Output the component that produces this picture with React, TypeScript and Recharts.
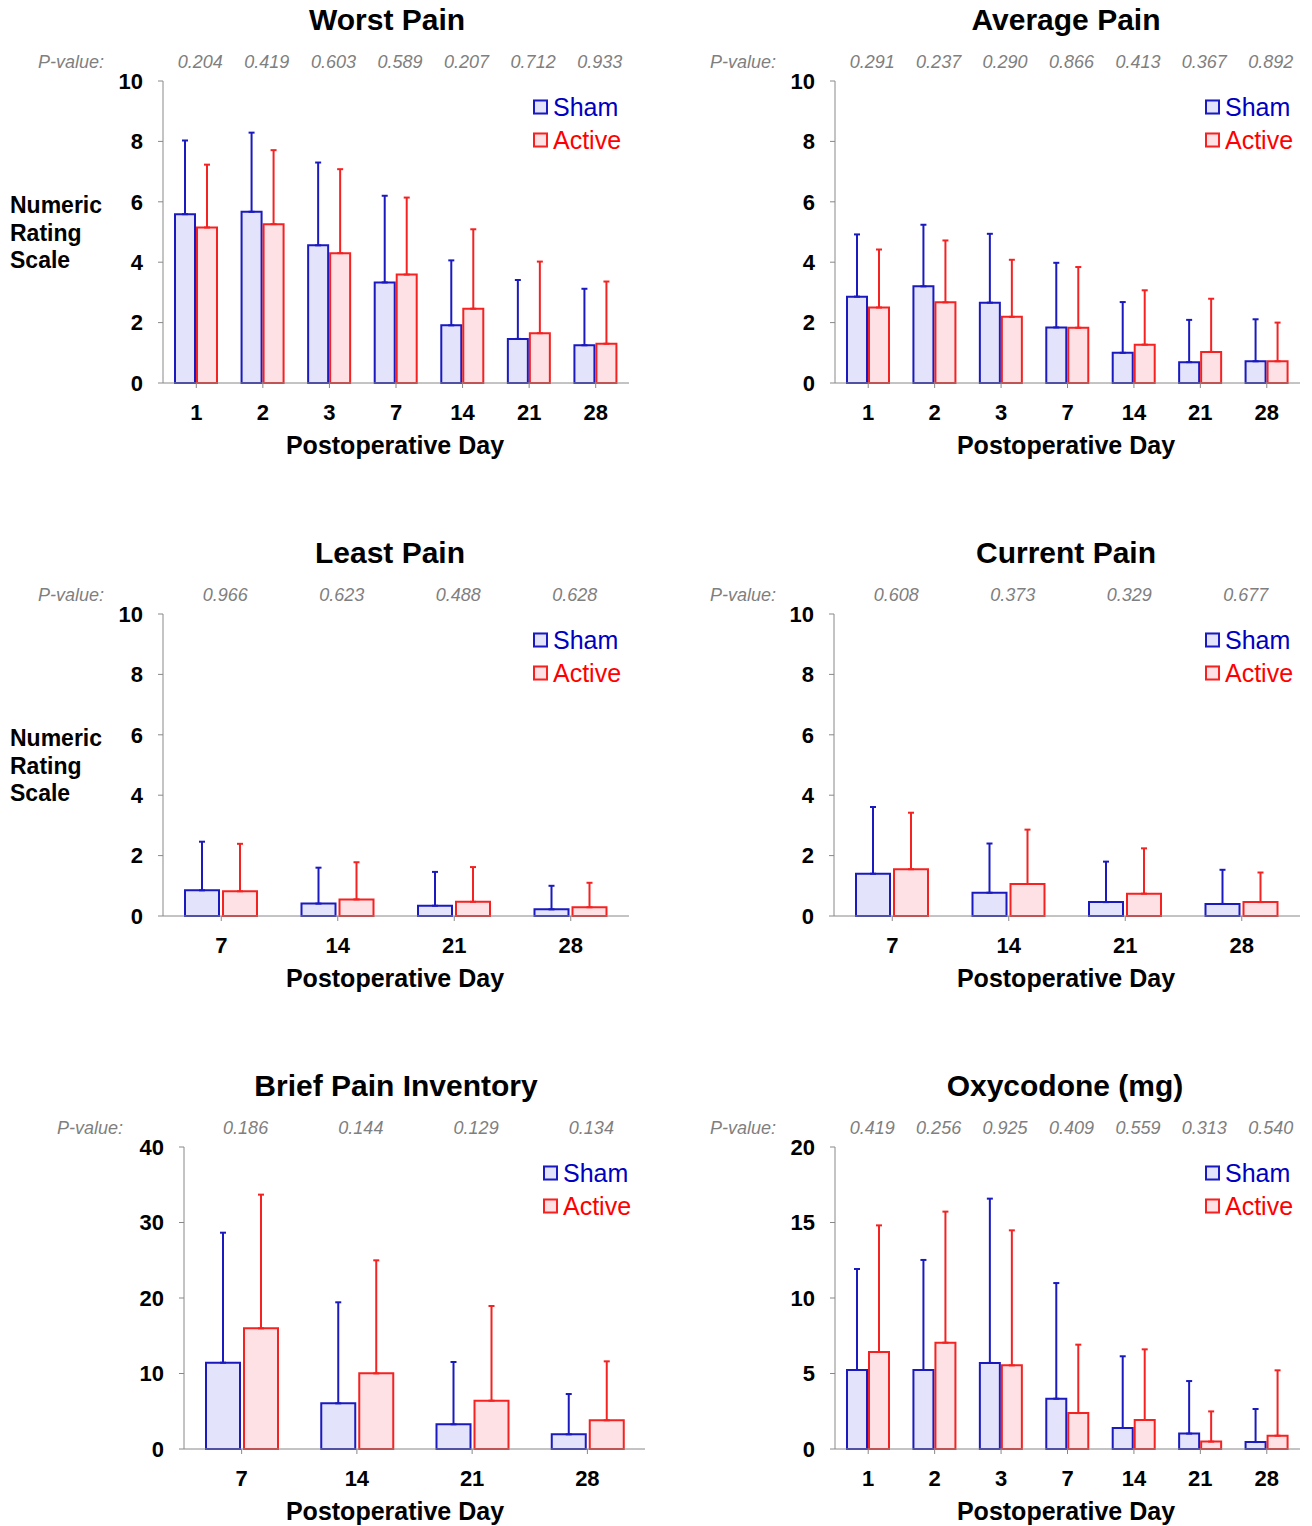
import React from 'react';
import { BarChart, Bar, XAxis, YAxis, ErrorBar } from 'recharts';

// categories
const days7 = ['1', '2', '3', '7', '14', '21', '28'];
const days4 = ['7', '14', '21', '28'];

// Worst Pain
const worstSham = [5.59, 5.67, 4.56, 3.33, 1.91, 1.46, 1.25];
const worstShamSD = [2.44, 2.62, 2.74, 2.87, 2.15, 1.95, 1.87];
const worstActive = [5.15, 5.26, 4.3, 3.59, 2.46, 1.65, 1.3];
const worstActiveSD = [2.08, 2.45, 2.78, 2.55, 2.63, 2.37, 2.06];
const worstP = ['0.204', '0.419', '0.603', '0.589', '0.207', '0.712', '0.933'];

// Average Pain
const avgSham = [2.86, 3.2, 2.66, 1.84, 1.0, 0.69, 0.72];
const avgShamSD = [2.06, 2.04, 2.28, 2.14, 1.68, 1.4, 1.39];
const avgActive = [2.5, 2.67, 2.19, 1.83, 1.27, 1.03, 0.72];
const avgActiveSD = [1.92, 2.05, 1.89, 2.01, 1.8, 1.76, 1.28];
const avgP = ['0.291', '0.237', '0.290', '0.866', '0.413', '0.367', '0.892'];

// Least Pain
const leastSham = [0.85, 0.41, 0.34, 0.22];
const leastShamSD = [1.61, 1.19, 1.12, 0.78];
const leastActive = [0.82, 0.55, 0.47, 0.29];
const leastActiveSD = [1.57, 1.23, 1.15, 0.81];
const leastP = ['0.966', '0.623', '0.488', '0.628'];

// Current Pain
const curSham = [1.4, 0.77, 0.46, 0.4];
const curShamSD = [2.21, 1.63, 1.34, 1.13];
const curActive = [1.55, 1.06, 0.74, 0.46];
const curActiveSD = [1.87, 1.8, 1.5, 0.98];
const curP = ['0.608', '0.373', '0.329', '0.677'];

// Brief Pain Inventory
const bpiSham = [11.43, 6.05, 3.27, 1.94];
const bpiShamSD = [17.22, 13.38, 8.25, 5.34];
const bpiActive = [15.98, 10.02, 6.4, 3.8];
const bpiActiveSD = [17.71, 14.97, 12.54, 7.81];
const bpiP = ['0.186', '0.144', '0.129', '0.134'];

// Oxycodone (mg)
const oxySham = [5.23, 5.23, 5.7, 3.33, 1.39, 1.02, 0.46];
const oxyShamSD = [6.69, 7.29, 10.88, 7.66, 4.75, 3.48, 2.19];
const oxyActive = [6.42, 7.04, 5.54, 2.38, 1.92, 0.49, 0.88];
const oxyActiveSD = [8.39, 8.68, 8.94, 4.53, 4.68, 2.0, 4.33];
const oxyP = ['0.419', '0.256', '0.925', '0.409', '0.559', '0.313', '0.540'];

const tick10 = [0, 2, 4, 6, 8, 10];
const tick40 = [0, 10, 20, 30, 40];
const tick20 = [0, 5, 10, 15, 20];

const FONT = "'Liberation Sans', Arial, sans-serif";
const SHAM_STROKE = '#1a1abf';
const SHAM_FILL = '#e3e3fc';
const ACTIVE_STROKE = '#f52222';
const ACTIVE_FILL = '#fde1e5';
const AXIS = '#888888';

type PanelProps = {
  x: number;
  y: number;
  plotLeft: number;
  plotRight: number;
  title: string;
  titleX: number;
  days: string[];
  sham: number[];
  shamSD: number[];
  active: number[];
  activeSD: number[];
  pvals: string[];
  yMax: number;
  yTicks: number[];
  barSize: number;
  barGap: number;
  pLabelX: number;
  legendX: number;
  yLabel?: boolean;
};

const abs = (style: React.CSSProperties): React.CSSProperties => ({
  position: 'absolute',
  whiteSpace: 'nowrap',
  lineHeight: 1,
  fontFamily: FONT,
  ...style,
});

const Panel = (p: PanelProps) => {
  const data = p.days.map((d, i) => ({
    day: d,
    sham: p.sham[i],
    shamErr: [0, p.shamSD[i]],
    active: p.active[i],
    activeErr: [0, p.activeSD[i]],
  }));
  const xTitle = p.x === 0 ? 395 : 1066;

  return (
    <>
      <div style={{ position: 'absolute', left: p.x, top: p.y }}>
        <BarChart
          width={656}
          height={533}
          data={data}
          margin={{ top: 51, right: p.x + 656 - p.plotRight, bottom: 110, left: 0 }}
          barSize={p.barSize}
          barGap={p.barGap}
        >
          <XAxis
            dataKey="day"
            stroke={AXIS}
            tickSize={5}
            tickMargin={16}
            height={40}
            tick={{ fill: '#000', fontSize: 22, fontWeight: 'bold', fontFamily: FONT }}
          />
          <XAxis
            xAxisId="p"
            dataKey="day"
            orientation="top"
            axisLine={false}
            tickLine={false}
            tickSize={0}
            tickMargin={13}
            height={30}
            tickFormatter={(_v: string, i: number) => p.pvals[i]}
            tick={{ fill: '#7f7f7f', fontSize: 18, fontStyle: 'italic', fontFamily: FONT, dx: 4 }}
          />
          <YAxis
            domain={[0, p.yMax]}
            ticks={p.yTicks}
            width={p.plotLeft - p.x}
            stroke={AXIS}
            tickSize={5}
            tickMargin={15}
            interval={0}
            tick={{ fill: '#000', fontSize: 22, fontWeight: 'bold', fontFamily: FONT }}
          />
          <Bar dataKey="sham" fill={SHAM_FILL} stroke={SHAM_STROKE} strokeWidth={2} isAnimationActive={false}>
            <ErrorBar dataKey="shamErr" direction="y" width={3} stroke={SHAM_STROKE} strokeWidth={2} />
          </Bar>
          <Bar dataKey="active" fill={ACTIVE_FILL} stroke={ACTIVE_STROKE} strokeWidth={2} isAnimationActive={false}>
            <ErrorBar dataKey="activeErr" direction="y" width={3} stroke={ACTIVE_STROKE} strokeWidth={2} />
          </Bar>
        </BarChart>
      </div>

      <div style={abs({ left: p.titleX, top: p.y + 20, transform: 'translate(-50%, -50%)', fontSize: 30, fontWeight: 'bold', color: '#000' })}>
        {p.title}
      </div>
      <div style={abs({ left: p.pLabelX, top: p.y + 62, transform: 'translateY(-50%)', fontSize: 18, fontStyle: 'italic', color: '#7f7f7f' })}>
        P-value:
      </div>

      {[
        { name: 'Sham', stroke: SHAM_STROKE, fill: SHAM_FILL, color: '#0000c0', cy: 107 },
        { name: 'Active', stroke: ACTIVE_STROKE, fill: ACTIVE_FILL, color: '#ff0000', cy: 140 },
      ].map((l) => (
        <div key={l.name} style={abs({ left: p.legendX, top: p.y + l.cy, transform: 'translateY(-50%)', display: 'flex', alignItems: 'center' })}>
          <span style={{ display: 'inline-block', width: 11, height: 11, border: `2px solid ${l.stroke}`, background: l.fill, marginRight: 5 }} />
          <span style={{ fontSize: 25, color: l.color }}>{l.name}</span>
        </div>
      ))}

      {p.yLabel && (
        <div style={abs({ left: 10, top: p.y + 192, fontSize: 23, fontWeight: 'bold', lineHeight: '27.5px', color: '#000' })}>
          Numeric
          <br />
          Rating
          <br />
          Scale
        </div>
      )}

      <div style={abs({ left: xTitle, top: p.y + 445, transform: 'translate(-50%, -50%)', fontSize: 25, fontWeight: 'bold', color: '#000' })}>
        Postoperative Day
      </div>
    </>
  );
};

const App: React.FC = () => {
  return (
    <div style={{ position: 'absolute', left: 0, top: 0, width: 1312, height: 1526, background: '#fff', overflow: 'hidden' }}>
      <Panel x={0} y={0} plotLeft={163} plotRight={629} title="Worst Pain" titleX={387}
        days={days7} sham={worstSham} shamSD={worstShamSD} active={worstActive} activeSD={worstActiveSD} pvals={worstP}
        yMax={10} yTicks={tick10} barSize={20} barGap={2} pLabelX={38} legendX={533} yLabel />
      <Panel x={656} y={0} plotLeft={835} plotRight={1300} title="Average Pain" titleX={1066}
        days={days7} sham={avgSham} shamSD={avgShamSD} active={avgActive} activeSD={avgActiveSD} pvals={avgP}
        yMax={10} yTicks={tick10} barSize={20} barGap={2} pLabelX={710} legendX={1205} />
      <Panel x={0} y={533} plotLeft={163} plotRight={629} title="Least Pain" titleX={390}
        days={days4} sham={leastSham} shamSD={leastShamSD} active={leastActive} activeSD={leastActiveSD} pvals={leastP}
        yMax={10} yTicks={tick10} barSize={34} barGap={4} pLabelX={38} legendX={533} yLabel />
      <Panel x={656} y={533} plotLeft={834} plotRight={1300} title="Current Pain" titleX={1066}
        days={days4} sham={curSham} shamSD={curShamSD} active={curActive} activeSD={curActiveSD} pvals={curP}
        yMax={10} yTicks={tick10} barSize={34} barGap={4} pLabelX={710} legendX={1205} />
      <Panel x={0} y={1066} plotLeft={184} plotRight={645} title="Brief Pain Inventory" titleX={396}
        days={days4} sham={bpiSham} shamSD={bpiShamSD} active={bpiActive} activeSD={bpiActiveSD} pvals={bpiP}
        yMax={40} yTicks={tick40} barSize={34} barGap={4} pLabelX={57} legendX={543} />
      <Panel x={656} y={1066} plotLeft={835} plotRight={1300} title="Oxycodone (mg)" titleX={1065}
        days={days7} sham={oxySham} shamSD={oxyShamSD} active={oxyActive} activeSD={oxyActiveSD} pvals={oxyP}
        yMax={20} yTicks={tick20} barSize={20} barGap={2} pLabelX={710} legendX={1205} />
    </div>
  );
};

export default App;
